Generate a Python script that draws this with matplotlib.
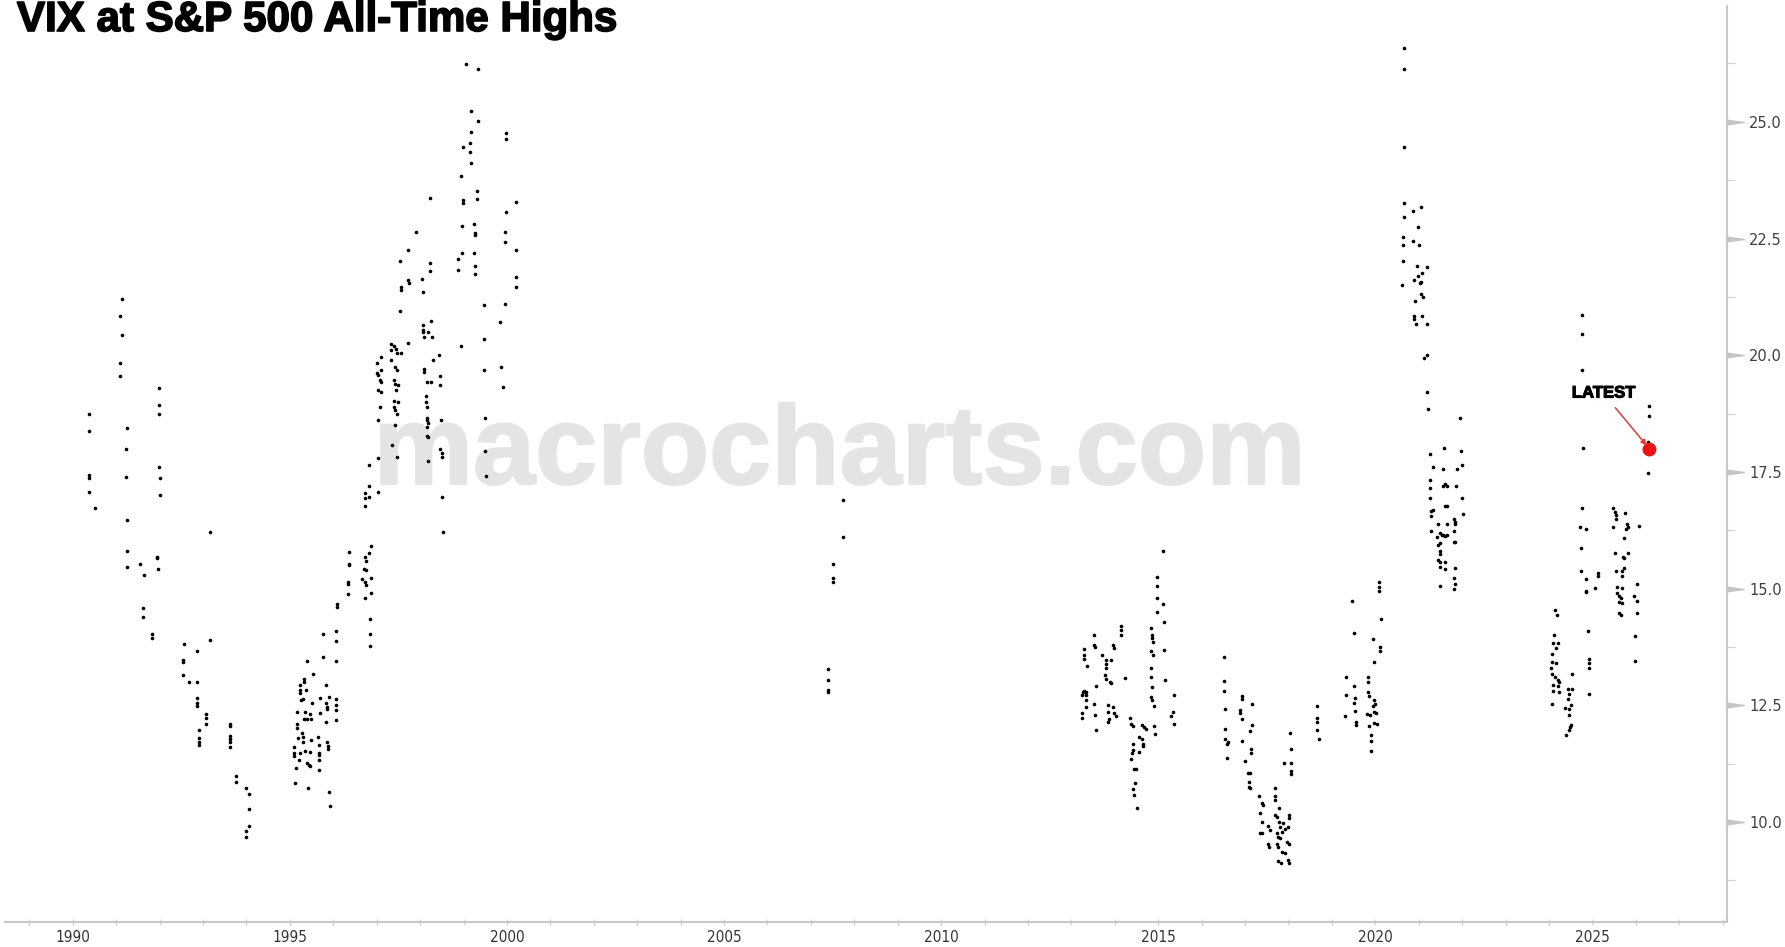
import matplotlib
matplotlib.use("Agg")
import matplotlib.pyplot as plt
import matplotlib.patheffects as pe
from matplotlib.path import Path
import numpy as np

# ---------------- data (decimal year, VIX close at S&P 500 all-time highs) ----------------
years_1990s = [1990.37, 1990.37, 1990.37, 1990.37, 1990.37, 1990.51,
               1991.13, 1991.09, 1991.14, 1991.10, 1991.09, 1991.24, 1991.23, 1991.22, 1991.25, 1991.26, 1991.26,
               1991.56, 1991.63, 1991.61, 1991.61, 1991.83, 1991.83,
               1991.98, 1991.98, 1991.98, 1991.98, 1992.01, 1992.01, 1991.95, 1991.95, 1991.96,
               1992.56, 1992.86, 1992.54, 1992.54, 1992.55, 1992.67, 1992.87, 1992.87, 1992.87, 1992.87,
               1993.06, 1993.06, 1993.06, 1992.91, 1992.91, 1992.91, 1992.91, 1993.16, 1993.16,
               1993.62, 1993.62, 1993.62, 1993.62, 1993.62, 1993.62, 1993.76, 1993.76,
               1994.00, 1994.06, 1994.06, 1994.06, 1993.98, 1993.98]
vix_1990s = [18.74, 18.38, 17.43, 17.38, 17.08, 16.73,
             21.21, 20.84, 20.44, 19.83, 19.56, 18.44, 17.99, 17.39, 16.48, 15.81, 15.46,
             15.52, 15.29, 14.58, 14.40, 14.03, 13.95,
             19.29, 18.94, 18.74, 17.61, 17.38, 17.00, 15.68, 15.65, 15.43,
             13.82, 13.66, 13.48, 13.43, 13.16, 13.00, 13.00, 12.65, 12.56, 12.48,
             12.31, 12.23, 12.11, 11.98, 11.81, 11.72, 11.66, 16.21, 13.89,
             12.11, 12.06, 11.84, 11.78, 11.72, 11.61, 10.99, 10.85,
             10.72, 10.61, 10.28, 9.91, 9.81, 9.68]

years_1995_96 = [1995.39, 1995.54, 1995.32, 1995.33, 1995.24, 1995.38, 1995.24, 1995.24, 1995.25, 1995.30,
                 1995.50, 1995.69, 1995.84, 1995.84, 1995.85, 1995.85, 1995.90, 1996.06, 1996.06, 1996.06,
                 1996.06, 1995.84, 1995.16, 1995.35, 1995.47, 1995.49, 1995.32, 1995.39, 1995.70, 1995.17,
                 1995.17, 1995.28, 1995.31, 1995.30, 1995.19, 1995.48, 1995.66, 1995.68, 1995.86, 1995.88,
                 1995.89, 1995.10, 1995.10, 1995.10, 1995.23, 1995.36, 1995.47, 1995.68, 1995.68, 1995.21,
                 1995.15, 1995.39, 1995.44, 1995.46, 1995.68, 1995.67, 1995.12, 1995.43, 1995.91, 1995.92,
                 1995.77, 1996.07, 1996.07, 1995.77, 1996.07, 1996.09, 1996.09,
                 1996.36, 1996.36, 1996.36, 1996.35, 1996.35, 1996.34,
                 1996.73, 1996.76, 1996.70, 1996.76, 1996.67, 1996.73, 1996.76, 1996.86, 1996.87, 1996.73,
                 1996.87, 1996.83, 1996.85, 1996.84, 1996.85, 1996.73, 1996.73, 1996.82, 1996.73, 1996.83,
                 1997.03, 1996.82, 1997.03]
vix_1995_96 = [13.44, 13.17, 13.07, 13.00, 12.93, 12.83, 12.82, 12.77, 12.61, 12.63,
               12.55, 12.66, 12.93, 12.56, 12.47, 12.43, 12.68, 12.64, 12.50, 12.40,
               12.18, 12.15, 12.36, 12.36, 12.31, 12.21, 12.20, 12.20, 12.33, 12.11,
               12.02, 11.90, 11.83, 11.72, 11.81, 11.75, 11.83, 11.65, 11.71, 11.63,
               11.56, 11.61, 11.49, 11.42, 11.47, 11.53, 11.50, 11.49, 11.43, 11.33,
               11.15, 11.27, 11.22, 11.20, 11.33, 11.11, 10.83, 10.73, 10.65, 10.34,
               14.03, 14.09, 13.88, 13.53, 13.45, 14.67, 14.60,
               15.79, 15.52, 15.50, 15.14, 15.11, 14.89,
               15.67, 15.59, 15.42, 15.40, 15.20, 15.15, 15.08, 15.22, 14.90, 14.79,
               15.91, 15.77, 14.35, 14.03, 13.78, 17.04, 16.95, 16.96, 16.77, 17.20,
               17.08, 17.64, 17.80]

years_1997_98 = [1997.01, 1997.01, 1997.02, 1997.10, 1997.08, 1997.09, 1997.02, 1997.10, 1997.08, 1997.03, 1997.10,
                 1997.33, 1997.33, 1997.40, 1997.44, 1997.47, 1997.55, 1997.34, 1997.43, 1997.47, 1997.40,
                 1997.43, 1997.50, 1997.45, 1997.40, 1997.50, 1997.41, 1997.43, 1997.47, 1997.43, 1997.36, 1997.47,
                 1997.54, 1997.55, 1997.55, 1997.73, 1997.74, 1997.54, 1997.72, 1997.91, 1998.05, 1998.07,
                 1998.07, 1998.07, 1998.07, 1998.19, 1998.26, 1998.08, 1998.27, 1997.73, 1998.44, 1998.29,
                 1998.08, 1998.10, 1998.16, 1998.26, 1998.45, 1998.45, 1998.13, 1998.14, 1998.15, 1998.17,
                 1998.15, 1998.18, 1998.17, 1998.49, 1998.17, 1998.18, 1998.46, 1998.51, 1998.51, 1998.18,
                 1998.22, 1998.22, 1998.22, 1998.51, 1998.52]
vix_1997_98 = [19.83, 19.62, 19.57, 19.68, 19.47, 19.43, 19.26, 19.22, 18.89, 18.61, 19.97,
               20.24, 20.12, 20.19, 20.14, 20.05, 20.04, 19.90, 19.74, 19.68, 19.47,
               19.39, 19.36, 19.25, 19.02, 18.99, 18.90, 18.82, 18.75, 18.50, 18.07, 17.82,
               20.95, 21.47, 21.39, 21.61, 21.54, 22.01, 22.26, 22.64, 21.64, 21.35,
               20.64, 20.54, 20.50, 20.50, 20.74, 20.38, 20.39, 20.27, 20.01, 19.90,
               19.70, 19.64, 19.43, 19.43, 19.56, 19.36, 19.13, 18.99, 18.90, 18.66,
               18.61, 18.54, 18.47, 18.62, 18.27, 18.24, 17.99, 17.90, 17.82, 17.74,
               23.36, 21.97, 21.81, 16.96, 16.22]

years_1999_00 = [1999.05, 1999.34, 1999.18, 1999.34, 1999.17, 1998.98, 1999.16, 1999.16, 1999.18, 1998.94,
                 1999.30, 1999.30, 1998.99, 1998.99, 1998.96, 1999.24, 1999.27, 1999.26, 1998.96, 1998.88,
                 1998.87, 1999.24, 1999.26, 1999.26, 1998.95, 1999.48, 1999.48, 1999.48, 1999.49, 1999.50,
                 1999.52, 1999.97, 1999.98, 1999.97, 2000.21, 1999.96, 1999.96, 2000.21, 2000.20, 2000.21,
                 1999.96, 1999.85, 1999.87, 1999.90]
vix_1999_00 = [26.24, 26.12, 25.23, 25.01, 24.78, 24.45, 24.54, 24.36, 24.12, 23.84,
               23.52, 23.34, 23.32, 23.27, 22.77, 22.80, 22.61, 22.57, 22.18, 22.07,
               21.83, 22.18, 21.92, 21.75, 20.20, 21.08, 20.34, 19.68, 18.66, 17.94,
               17.41, 24.76, 24.63, 23.07, 23.29, 22.64, 22.42, 22.25, 21.68, 21.47,
               21.10, 20.72, 19.74, 19.31]

years_2007 = [2007.74, 2007.75, 2007.51, 2007.52, 2007.51, 2007.40, 2007.40, 2007.40, 2007.40]
vix_2007 = [16.90, 16.10, 15.53, 15.23, 15.14, 13.28, 13.04, 12.83, 12.78]

years_2013_16 = [2013.30, 2013.30, 2013.30, 2013.52, 2013.52, 2013.54, 2013.37, 2013.71, 2013.80, 2013.80,
                 2013.79, 2013.91, 2013.95, 2013.99, 2013.78, 2013.79, 2013.91, 2013.88, 2013.56, 2014.14,
                 2014.14, 2014.14, 2014.23, 2013.26, 2013.30, 2013.33, 2013.34, 2013.24, 2013.34, 2013.34,
                 2013.53, 2013.85, 2013.97, 2013.85, 2013.99, 2014.02, 2013.55, 2013.25, 2013.25, 2013.87,
                 2013.85, 2013.57,
                 2014.35, 2014.38, 2014.41, 2014.63, 2014.67, 2014.71, 2014.90, 2014.92, 2014.55, 2014.62,
                 2014.64, 2014.64, 2014.41, 2014.41, 2014.39, 2014.38, 2014.56, 2014.44, 2014.48, 2014.47,
                 2014.41, 2014.45, 2014.50,
                 2014.83, 2014.85, 2014.86, 2014.87, 2014.83, 2014.87, 2014.84, 2014.84, 2014.86, 2014.83,
                 2014.86, 2014.90, 2014.97, 2014.98, 2014.97, 2014.97, 2015.10, 2015.14, 2015.14, 2015.15,
                 2015.36, 2015.35, 2015.30, 2015.37, 2015.11,
                 2016.51, 2016.52, 2016.52, 2016.53, 2016.54, 2016.54, 2016.60, 2016.58, 2016.58]
vix_2013_16 = [13.70, 13.58, 13.50, 14.00, 13.79, 13.75, 13.35, 13.58, 13.47, 13.38,
               13.31, 13.48, 13.79, 13.72, 13.15, 13.06, 12.98, 13.00, 12.92, 14.20,
               14.11, 14.01, 13.08, 12.79, 12.81, 12.79, 12.72, 12.72, 12.61, 12.47,
               12.54, 12.50, 12.47, 12.36, 12.33, 12.27, 12.29, 12.34, 12.23, 12.21,
               12.15, 11.97,
               12.22, 12.11, 12.06, 12.09, 12.04, 12.00, 12.06, 11.88, 11.83, 11.77,
               11.68, 11.63, 11.67, 11.54, 11.47, 11.36, 11.50, 11.13, 11.13, 10.83,
               10.71, 10.59, 10.31,
               14.16, 14.00, 13.95, 13.86, 13.67, 13.58, 13.31, 13.11, 12.90, 12.67,
               12.61, 12.49, 15.24, 15.05, 14.79, 14.49, 14.68, 14.29, 13.68, 13.04,
               12.72, 12.36, 12.28, 12.10, 15.80,
               13.53, 13.02, 12.81, 12.43, 12.00, 11.77, 11.72, 11.67, 11.37]

years_2017_20 = [2016.94, 2016.94, 2017.16, 2016.89, 2016.89, 2016.93, 2017.16, 2017.12, 2016.93, 2017.14,
                 2017.14, 2017.01, 2017.06, 2017.12, 2017.08, 2017.10, 2017.12, 2017.33, 2017.39, 2017.42,
                 2017.69, 2017.69, 2017.69, 2017.79, 2017.35, 2017.69, 2017.73, 2018.02, 2018.02, 2017.39,
                 2017.35, 2017.39, 2017.54, 2017.58, 2017.79, 2017.81, 2017.88, 2018.00, 2017.92, 2017.73,
                 2017.77, 2017.81, 2017.85, 2017.96, 2018.02, 2017.54, 2017.56, 2017.73, 2017.75, 2017.85,
                 2017.92, 2017.77, 2017.83, 2018.00, 2018.01, 2018.04, 2018.06, 2017.90, 2018.05, 2018.05,
                 2018.06,
                 2018.65, 2018.65, 2018.65, 2018.65, 2018.71,
                 2019.46, 2019.50, 2019.32, 2019.51, 2019.32, 2019.54, 2019.51, 2019.54, 2019.30, 2019.56,
                 2019.56,
                 2019.83, 2019.84, 2019.84, 2019.85, 2019.96, 2019.99, 2019.94, 2019.82, 2019.88, 2019.96,
                 2020.02, 2019.98, 2020.03, 2019.86, 2019.90, 2019.90, 2019.90, 2019.96, 2019.94, 2020.11,
                 2020.11, 2020.13, 2020.09, 2020.09, 2020.09]
vix_2017_20 = [12.70, 12.63, 12.52, 12.40, 12.33, 12.20, 12.08, 11.96, 11.73, 11.56,
               11.47, 11.31, 11.06, 11.06, 10.86, 10.76, 10.72, 10.56, 10.40, 10.36,
               10.72, 10.56, 10.48, 10.31, 10.20, 10.15, 10.11, 10.15, 10.08, 10.01,
               9.76, 9.76, 9.91, 9.84, 10.01, 9.90, 9.99, 9.90, 9.86, 9.76,
               9.68, 9.65, 9.79, 9.58, 9.53, 9.54, 9.47, 9.54, 9.47, 9.36,
               9.33, 9.17, 9.13, 9.18, 9.13, 11.90, 11.56, 11.27, 11.27, 11.09,
               11.02,
               12.49, 12.23, 12.15, 11.97, 11.78,
               14.73, 14.04, 13.11, 12.92, 12.72, 12.66, 12.56, 12.38, 12.27, 12.15,
               12.08,
               13.10, 13.00, 12.79, 12.71, 12.61, 12.54, 12.49, 12.31, 12.29, 12.36,
               12.33, 12.13, 12.10, 12.06, 11.86, 11.73, 11.53, 13.42, 13.93, 13.76,
               13.66, 14.36, 15.15, 15.04, 14.95]

years_2020_22 = [2020.66, 2020.66, 2020.65, 2020.65, 2020.65, 2020.86, 2021.06, 2020.99, 2020.63, 2020.63,
                 2020.86, 2021.01, 2020.63, 2020.95, 2021.18, 2020.99, 2021.08, 2020.89, 2021.02, 2021.05,
                 2020.62, 2021.05, 2021.10, 2020.92, 2020.88, 2020.89, 2020.94, 2021.08, 2021.18, 2021.12,
                 2021.18, 2021.20, 2021.22,
                 2021.94, 2021.25, 2021.58, 2021.97, 2021.32, 2021.57, 2021.88, 2021.99, 2021.25, 2021.26,
                 2021.26, 2021.57, 2021.61, 2021.65, 2021.86, 2021.99, 2021.61, 2021.65, 2021.28, 2021.34,
                 2021.28, 2022.01, 2021.82, 2021.84, 2021.84, 2021.45, 2021.65, 2021.82, 2021.28, 2021.49,
                 2021.53, 2021.57, 2021.61, 2021.65, 2021.43, 2021.49, 2021.45, 2021.81, 2021.84, 2021.49,
                 2021.49, 2021.45, 2021.49, 2021.61, 2021.49, 2021.61, 2021.84, 2021.81, 2021.84, 2021.81,
                 2021.49]
vix_2020_22 = [26.58, 26.12, 24.47, 23.26, 22.95, 23.09, 23.18, 22.74, 22.54, 22.37,
               22.44, 22.36, 22.02, 21.92, 21.90, 21.69, 21.76, 21.62, 21.55, 21.57,
               21.50, 21.31, 21.24, 21.16, 20.83, 20.77, 20.67, 20.85, 20.67, 19.95,
               20.01, 19.21, 18.85,
               18.66, 17.89, 18.02, 17.94, 17.61, 17.57, 17.57, 17.65, 17.33, 17.15,
               16.94, 17.20, 17.24, 17.19, 17.20, 16.94, 16.77, 16.77, 16.67, 16.68,
               16.55, 16.59, 16.50, 16.42, 16.38, 16.38, 16.38, 16.24, 16.23, 16.19,
               16.15, 16.14, 16.12, 16.15, 16.10, 15.97, 15.93, 15.99, 16.01, 15.81,
               15.74, 15.62, 15.58, 15.58, 15.46, 15.43, 15.44, 15.23, 15.11, 15.00,
               15.05]

years_2024_26 = [2024.77, 2024.77, 2024.77, 2024.79, 2026.31, 2026.31, 2026.29, 2026.29,
                 2024.14, 2024.18, 2024.12, 2024.10, 2024.20, 2024.16, 2024.08, 2024.06, 2024.16, 2024.05,
                 2024.06, 2024.14, 2024.20, 2024.23, 2024.10, 2024.20, 2024.09, 2024.22, 2024.06, 2024.54,
                 2024.43, 2024.53, 2024.45, 2024.43, 2024.51, 2024.47, 2024.37, 2024.46, 2024.51, 2024.49,
                 2024.45, 2024.39,
                 2024.91, 2024.92, 2024.92, 2024.92, 2024.92,
                 2024.76, 2024.72, 2024.85, 2024.73, 2024.73, 2024.85, 2024.85, 2024.85, 2025.06, 2025.13,
                 2025.13,
                 2025.48, 2025.52, 2025.55, 2025.75, 2025.55, 2025.48, 2025.79, 2025.81, 2025.78, 2026.08,
                 2025.72, 2025.52, 2025.70, 2025.72, 2025.81, 2025.55, 2025.68, 2025.68, 2025.72, 2026.02,
                 2025.56, 2025.68, 2025.62, 2025.65, 2025.56, 2025.95, 2026.02, 2025.62, 2025.68, 2026.02,
                 2025.62, 2025.66, 2025.98, 2025.98]
vix_2024_26 = [20.86, 20.45, 19.68, 18.02, 18.91, 18.70, 18.15, 17.47,
               14.54, 14.43, 14.00, 13.84, 13.83, 13.73, 13.59, 13.43, 13.40, 13.29,
               13.17, 13.11, 13.04, 13.00, 12.93, 12.91, 12.81, 12.79, 12.54, 13.18,
               12.84, 12.84, 12.75, 12.63, 12.50, 12.43, 12.44, 12.29, 12.08, 12.03,
               11.97, 11.86,
               14.09, 13.49, 13.40, 13.30, 12.75,
               16.72, 16.32, 16.27, 15.88, 15.38, 15.20, 14.95, 14.92, 15.02, 15.34,
               15.27,
               16.72, 16.65, 16.57, 16.63, 16.50, 16.31, 16.38, 16.32, 16.27, 16.34,
               16.09, 15.77, 15.68, 15.66, 15.77, 15.37, 15.38, 15.28, 15.45, 15.11,
               15.04, 15.02, 14.84, 14.80, 14.91, 14.85, 14.74, 14.72, 14.70, 14.48,
               14.48, 14.43, 13.98, 13.45]

latest_year = 2026.31
latest_vix = 18.00

title = "VIX at S&P 500 All-Time Highs"
watermark = "macrocharts.com"
x_major = [1990, 1995, 2000, 2005, 2010, 2015, 2020, 2025]
y_major = [10.0, 12.5, 15.0, 17.5, 20.0, 22.5, 25.0]

# ---------------- figure ----------------
W, H = 1785, 947
fig = plt.figure(figsize=(W / 100, H / 100), dpi=100)
ax = fig.add_axes([5 / W, 1 - 922 / H, (1727 - 5) / W, (922 - 6) / H])

all_x = years_1990s + years_1995_96 + years_1997_98 + years_1999_00 + years_2007 + \
        years_2013_16 + years_2017_20 + years_2020_22 + years_2024_26
all_y = vix_1990s + vix_1995_96 + vix_1997_98 + vix_1999_00 + vix_2007 + \
        vix_2013_16 + vix_2017_20 + vix_2020_22 + vix_2024_26

ax.plot(all_x, all_y, linestyle="none", marker="o", ms=2.6, mfc="black", mec="black",
        mew=0, zorder=3)
ax.plot([latest_year], [latest_vix], linestyle="none", marker="o", ms=9,
        color="#ee1111", zorder=4)

ax.set_xlim(1988.44, 2028.1)
ax.set_ylim(7.86, 27.48)

# watermark
ax.text(0.4845, 0.510, watermark, transform=ax.transAxes, ha="center", va="center",
        fontsize=80.5, fontweight="bold", family="Liberation Sans", color="#e4e4e4", zorder=1,
        path_effects=[pe.withStroke(linewidth=1.5, foreground="#e4e4e4")])

# spines
for s in ["top", "left"]:
    ax.spines[s].set_visible(False)
for s in ["bottom", "right"]:
    ax.spines[s].set_color("#c8c8c8")
    ax.spines[s].set_linewidth(1.5)

# x axis ticks
ax.set_xticks(x_major)
ax.set_xticks(np.arange(1989, 2029, 1), minor=True)
ax.set_xticklabels([str(v) for v in x_major])
ax.tick_params(axis="x", which="both", direction="inout", length=5, width=0.8,
               color="#cfcfcf", labelsize=11, labelcolor="#333333", pad=3)
for lab in ax.get_xticklabels():
    lab.set_fontstretch("condensed")

# y axis on right with triangular ticks
ax.yaxis.tick_right()
ax.set_yticks(y_major)
ax.set_yticklabels([f"{v:.1f}" for v in y_major])
ax.set_yticks(np.arange(8.75, 27.0, 2.5), minor=True)
ax.tick_params(axis="y", which="major", length=0, pad=16, labelsize=10.5,
               labelcolor="#404040")
ax.tick_params(axis="y", which="minor", direction="out", length=6, width=0.8,
               color="#cfcfcf")
tri = Path([(0, -0.55), (4, 0), (0, 0.55), (0, -0.55)],
           [Path.MOVETO, Path.LINETO, Path.LINETO, Path.CLOSEPOLY])
ax.plot([1.0] * len(y_major), y_major, linestyle="none", marker=tri, ms=24,
        color="#c4c4c4", transform=ax.get_yaxis_transform(), clip_on=False, zorder=5)

# title
fig.text(17 / W, 1 - 31 / H, title, ha="left", va="baseline", fontsize=30.3,
         fontweight="bold", family="Liberation Sans", color="black",
         path_effects=[pe.withStroke(linewidth=1.2, foreground="black")])

# LATEST annotation
ax.annotate("LATEST", xy=(latest_year, latest_vix), xytext=(-33, 40),
            textcoords="offset points", ha="center", va="center", fontsize=12,
            fontweight="bold", family="Liberation Sans", color="black", zorder=6,
            path_effects=[pe.withStroke(linewidth=0.8, foreground="black")])
ax.annotate("", xy=(latest_year, latest_vix), xytext=(-24.5, 29.5),
            textcoords="offset points",
            arrowprops=dict(arrowstyle="-|>", color="#e23a3a", lw=1.1,
                            mutation_scale=8, shrinkA=0, shrinkB=3),
            zorder=6)

fig.savefig("out.png", dpi=100, facecolor="white")
